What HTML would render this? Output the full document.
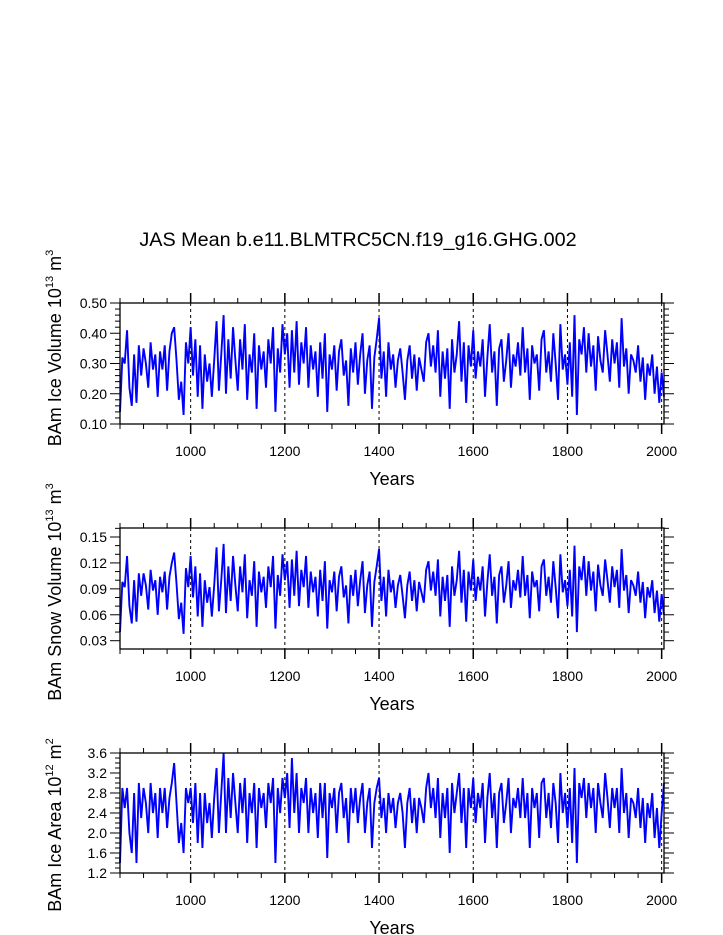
<!DOCTYPE html>
<html><head><meta charset="utf-8"><style>
body{margin:0;background:#fff;}
svg{display:block;font-family:"Liberation Sans",Arial,sans-serif;}
</style></head><body>
<svg id="chart" width="723" height="935">
<text x="358" y="246" font-size="19.8" text-anchor="middle">JAS Mean b.e11.BLMTRC5CN.f19_g16.GHG.002</text>
</svg>
<script>
const startYear = 850, stepYears = 5;
const iceVolume = [
.14,.32,.30,.41,.22,.16,.33,.17,.36,.26,
.35,.30,.22,.37,.28,.33,.19,.34,.28,.36,
.21,.34,.40,.42,.31,.18,.24,.13,.37,.30,
.42,.26,.38,.19,.36,.15,.33,.24,.30,.19,
.31,.44,.21,.33,.46,.20,.38,.25,.42,.31,
.21,.38,.28,.43,.18,.33,.27,.40,.15,.36,
.28,.34,.22,.38,.30,.42,.14,.35,.27,.43,
.33,.40,.22,.41,.27,.44,.23,.37,.30,.42,
.22,.36,.28,.34,.19,.37,.25,.40,.14,.33,
.28,.36,.21,.34,.38,.26,.31,.16,.35,.27,
.37,.23,.33,.40,.20,.31,.36,.15,.32,.38,
.45,.25,.34,.19,.37,.28,.33,.22,.31,.35,
.27,.18,.31,.36,.25,.33,.21,.32,.28,.24,
.37,.40,.29,.36,.27,.41,.19,.34,.25,.35,
.15,.38,.27,.33,.44,.24,.37,.17,.36,.29,
.41,.25,.34,.29,.38,.19,.32,.43,.27,.34,
.16,.35,.38,.24,.31,.40,.22,.33,.29,.37,
.26,.42,.27,.35,.18,.36,.30,.33,.21,.38,
.41,.27,.34,.24,.40,.30,.18,.43,.28,.33,
.23,.37,.19,.46,.13,.38,.33,.42,.27,.40,
.29,.36,.21,.39,.31,.27,.41,.33,.24,.38,
.30,.37,.22,.45,.29,.35,.20,.33,.31,.27,
.36,.24,.32,.18,.30,.26,.33,.20,.29,.17,
.27,.19];
const snowVolume = [
.040,.098,.092,.128,.070,.050,.100,.052,.108,.082,
.108,.094,.066,.112,.088,.100,.060,.104,.086,.110,
.066,.104,.120,.132,.096,.055,.074,.038,.114,.092,
.128,.080,.116,.058,.108,.046,.100,.074,.092,.058,
.094,.138,.064,.100,.142,.062,.116,.076,.128,.094,
.064,.116,.086,.130,.056,.100,.082,.122,.046,.110,
.086,.104,.068,.116,.092,.128,.044,.106,.082,.130,
.100,.122,.068,.124,.082,.134,.070,.112,.092,.128,
.068,.110,.086,.104,.058,.112,.076,.122,.044,.100,
.086,.110,.064,.104,.116,.080,.094,.050,.106,.082,
.112,.070,.100,.122,.062,.094,.110,.046,.098,.116,
.136,.076,.104,.058,.112,.086,.100,.068,.094,.106,
.082,.056,.094,.110,.076,.100,.064,.098,.086,.074,
.112,.122,.088,.110,.082,.124,.058,.104,.076,.106,
.046,.116,.082,.100,.134,.074,.112,.052,.110,.088,
.124,.076,.104,.088,.116,.058,.098,.130,.082,.104,
.050,.106,.116,.074,.094,.122,.068,.100,.088,.112,
.080,.128,.082,.106,.056,.110,.092,.100,.064,.116,
.124,.082,.104,.074,.122,.092,.056,.130,.086,.100,
.070,.112,.058,.140,.040,.116,.100,.128,.082,.122,
.088,.110,.064,.118,.094,.082,.124,.100,.074,.116,
.092,.112,.068,.136,.088,.106,.062,.100,.094,.082,
.110,.074,.098,.056,.092,.080,.100,.062,.088,.052,
.084,.060];
const iceArea = [
1.4,2.9,2.5,2.9,2.0,1.6,2.8,1.4,3.0,2.3,
2.9,2.6,2.0,3.0,2.4,2.8,1.9,2.9,2.4,2.9,
2.1,2.7,3.0,3.4,2.6,1.8,2.2,1.6,2.9,2.6,
2.9,2.2,3.0,1.8,2.8,1.7,2.8,2.2,2.6,1.9,
2.7,3.3,2.0,2.8,3.6,2.0,3.1,2.3,3.2,2.6,
2.0,3.0,2.4,3.1,1.8,2.8,2.4,3.0,1.7,2.9,
2.5,2.8,2.1,3.0,2.6,3.1,1.4,2.9,2.4,3.1,
2.7,3.2,2.1,3.5,2.4,3.2,2.0,2.9,2.6,3.1,
2.0,2.9,2.4,2.8,1.9,3.0,2.3,3.0,1.5,2.8,
2.5,2.9,2.0,2.8,3.0,2.3,2.7,1.8,2.9,2.4,
2.9,2.2,2.7,3.0,2.0,2.6,2.9,1.7,2.6,2.9,
3.1,2.3,2.7,2.0,2.8,2.4,2.7,2.1,2.6,2.8,
2.4,1.7,2.6,2.9,2.2,2.7,2.0,2.7,2.5,2.2,
2.9,3.2,2.5,2.9,2.3,3.1,1.9,2.8,2.3,2.9,
1.6,3.0,2.4,2.8,3.2,2.2,2.9,1.7,2.9,2.5,
3.1,2.2,2.8,2.5,3.0,1.8,2.7,3.2,2.3,2.8,
1.7,2.8,3.0,2.2,2.6,3.1,2.0,2.7,2.5,2.9,
2.3,3.1,2.3,2.8,1.7,2.9,2.5,2.8,1.9,3.0,
3.1,2.3,2.8,2.1,3.0,2.6,1.8,3.2,2.4,2.8,
2.1,2.9,1.8,3.3,1.4,3.0,2.7,3.1,2.3,3.0,
2.5,2.9,2.0,3.0,2.6,2.3,3.2,2.7,2.1,2.9,
2.5,2.9,2.0,3.3,2.4,2.8,1.9,2.7,2.6,2.3,
2.9,2.1,2.7,1.8,2.6,2.3,2.8,1.9,2.5,1.7,
2.4,3.0];
const xTickYears = [1000,1200,1400,1600,1800,2000];
const ticks1 = ["0.10","0.20","0.30","0.40","0.50"];
const ticks2 = ["0.03","0.06","0.09","0.12","0.15"];
const ticks3 = ["1.2","1.6","2.0","2.4","2.8","3.2","3.6"];

const NS="http://www.w3.org/2000/svg";
const svg=document.getElementById('chart');
function mk(tag,attrs,parent){const e=document.createElementNS(NS,tag);for(const k in attrs)e.setAttribute(k,attrs[k]);(parent||svg).appendChild(e);return e;}
const X0=120,X1=664,YR0=850,YR1=2005;
function xs(yr){return X0+(yr-YR0)/(YR1-YR0)*(X1-X0);}

const panels=[
 {top:303,bot:424,ymin:0.10,ymax:0.50,data:iceVolume,ticks:ticks1,minor:0.02,name:'ice-volume',title:['BAm Ice Volume 10','13',' m','3'],tcy:348},
 {top:528,bot:649,ymin:0.0204,ymax:0.1604,data:snowVolume,ticks:ticks2,minor:0.01,name:'snow-volume',title:['BAm Snow Volume 10','13',' m','3'],tcy:592},
 {top:753,bot:873,ymin:1.2,ymax:3.6,data:iceArea,ticks:ticks3,minor:0.1,name:'ice-area',title:['BAm Ice Area 10','12',' m','2'],tcy:825}
];
panels.forEach(p=>{
  const g=mk('g',{});
  
  
  const ys=v=>p.bot-(v-p.ymin)/(p.ymax-p.ymin)*(p.bot-p.top);
  xTickYears.forEach(yr=>{
    const l=mk('line',{x1:xs(yr),x2:xs(yr),y1:p.top,y2:p.bot,stroke:'#000','stroke-width':1,'stroke-dasharray':'3,3'},g);
    
    
  });
  const pts=p.data.map((v,i)=>xs(startYear+i*stepYears).toFixed(2)+','+ys(v).toFixed(2)).join(' ');
  const pl=mk('polyline',{points:pts,fill:'none',stroke:'#0000ff','stroke-width':1.9,'stroke-linejoin':'miter'},g);
  
  
  const fr=mk('rect',{x:X0,y:p.top,width:X1-X0,height:p.bot-p.top,fill:'none',stroke:'#000','stroke-width':1.3},g);
  
  
  for(let yr=850;yr<=2005;yr+=50){
    const major=yr%200===0;const L=major?10:5;
    mk('line',{x1:xs(yr),x2:xs(yr),y1:p.top,y2:p.top-L,stroke:'#000','stroke-width':major?1.5:1},g);
    mk('line',{x1:xs(yr),x2:xs(yr),y1:p.bot,y2:p.bot+L,stroke:'#000','stroke-width':major?1.5:1},g);
  }
  xTickYears.forEach(yr=>{
    const t=mk('text',{x:xs(yr),y:p.bot+32,'font-size':14,'text-anchor':'middle'},g);t.textContent=yr;
    
    
  });
  const n=Math.round((p.ymax-p.ymin)/p.minor)+2;
  const first=Math.ceil(p.ymin/p.minor-1e-6)*p.minor;
  for(let k=0;k<n;k++){
    const v=first+k*p.minor; if(v>p.ymax+1e-6)break;
    const isMaj=p.ticks.some(s=>Math.abs(parseFloat(s)-v)<1e-6);const L=isMaj?10:5;
    mk('line',{x1:X0,x2:X0-L,y1:ys(v),y2:ys(v),stroke:'#000','stroke-width':1},g);
    mk('line',{x1:X1,x2:X1+L,y1:ys(v),y2:ys(v),stroke:'#000','stroke-width':1},g);
  }
  p.ticks.forEach(s=>{
    const t=mk('text',{x:X0-13,y:ys(parseFloat(s))+5,'font-size':14,'text-anchor':'end'},g);t.textContent=s;
    
    
  });
  const xt=mk('text',{x:392,y:p.bot+61,'font-size':18,'text-anchor':'middle'},g);xt.textContent='Years';
  
  
  const yt=mk('text',{x:0,y:0,'font-size':18,'text-anchor':'middle',transform:'translate(61,'+p.tcy+') rotate(-90)'},g);
  
  
  const a=mk('tspan',{},yt);a.textContent=p.title[0];
  const b=mk('tspan',{dy:-8,'font-size':11},yt);b.textContent=p.title[1];
  const c=mk('tspan',{dy:8},yt);c.textContent=p.title[2];
  const d=mk('tspan',{dy:-8,'font-size':11},yt);d.textContent=p.title[3];
});
</script>
</body></html>
